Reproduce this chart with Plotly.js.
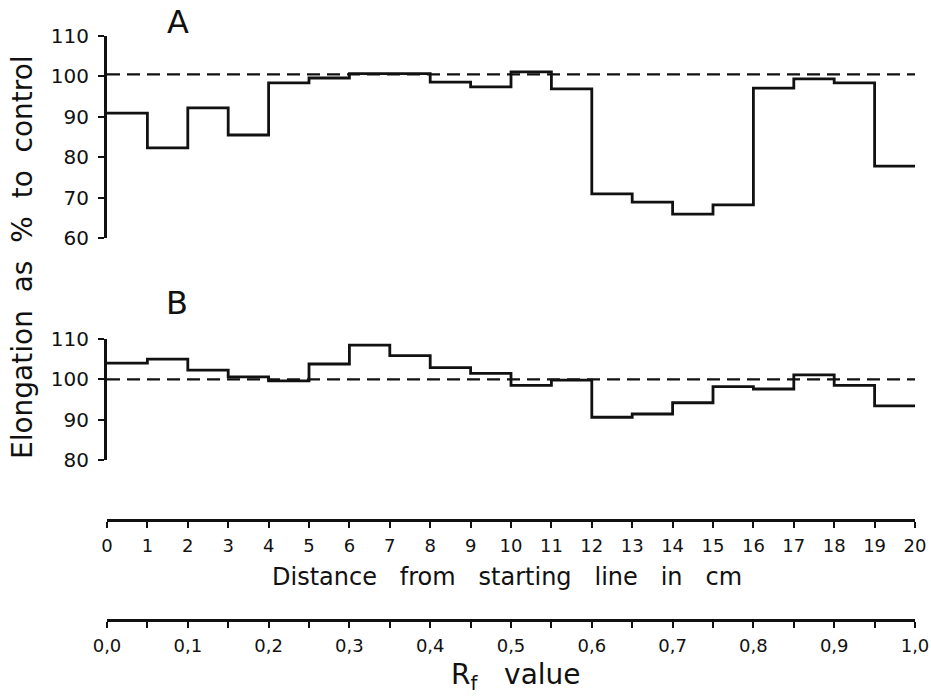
<!DOCTYPE html>
<html>
<head>
<meta charset="utf-8">
<script src="https://cdn.plot.ly/plotly-3.0.1.min.js"></script>
<style>
html,body{margin:0;padding:0;background:#fff;}
#chart{width:931px;height:697px;}
</style>
</head>
<body>
<div id="chart"></div>
<script>
// ---- data ----
const distanceEdges = [0,1,2,3,4,5,6,7,8,9,10,11,12,13,14,15,16,17,18,19,20];
const elongationA = [90.9,82.3,92.2,85.5,98.4,99.6,100.7,100.7,98.6,97.4,101.1,96.9,70.9,68.9,65.9,68.2,97.1,99.4,98.4,77.8];
const elongationB = [104.0,105.0,102.3,100.6,99.6,103.8,108.5,105.9,102.9,101.5,98.5,99.8,90.6,91.4,94.2,98.2,97.6,101.1,98.5,93.4];
const controlA = 100.5;
const controlB = 100;
const yTicksA = [60,70,80,90,100,110];
const yTicksB = [80,90,100,110];
const distanceTicks = [0,1,2,3,4,5,6,7,8,9,10,11,12,13,14,15,16,17,18,19,20];
const rfTickVals = [0,0.1,0.2,0.3,0.4,0.5,0.6,0.7,0.8,0.9,1.0];
const rfTickText = ['0,0','0,1','0,2','0,3','0,4','0,5','0,6','0,7','0,8','0,9','1,0'];
const rfMinorTicks = [0.05,0.15,0.25,0.35,0.45,0.55,0.65,0.75,0.85,0.95];

// ---- geometry ----
const W = 931, H = 697;
const M = {l:107, r:16, t:36, b:77};
const plotH = H - M.t - M.b;
const plotW = W - M.l - M.r;
const py = p => (H - M.b - p) / plotH; // pixel y -> paper fraction
const px = p => (p - M.l) / plotW;      // pixel x -> paper fraction

const FONT = 'DejaVu Sans, sans-serif';
const ink = '#111';

function stepY(vals){ return vals.concat([vals[vals.length-1]]); }

const traces = [
  {x: distanceEdges, y: stepY(elongationA), xaxis:'x', yaxis:'y', mode:'lines',
   line:{shape:'hv', color:ink, width:2.8}, hoverinfo:'skip', showlegend:false},
  {x: [distanceEdges[0], distanceEdges[distanceEdges.length-1]], y:[controlA, controlA], xaxis:'x', yaxis:'y', mode:'lines',
   line:{color:ink, width:2.2, dash:'13px,7px'}, hoverinfo:'skip', showlegend:false},
  {x: distanceEdges, y: stepY(elongationB), xaxis:'x', yaxis:'y2', mode:'lines',
   line:{shape:'hv', color:ink, width:2.8}, hoverinfo:'skip', showlegend:false},
  {x: [distanceEdges[0], distanceEdges[distanceEdges.length-1]], y:[controlB, controlB], xaxis:'x', yaxis:'y2', mode:'lines',
   line:{color:ink, width:2.2, dash:'13px,7px'}, hoverinfo:'skip', showlegend:false},
  {x: [distanceTicks[0], distanceTicks[distanceTicks.length-1]], y:[null,null], xaxis:'x2', yaxis:'y', mode:'lines', hoverinfo:'skip', showlegend:false},
  {x: [rfTickVals[0], rfTickVals[rfTickVals.length-1]], y:[null,null], xaxis:'x3', yaxis:'y', mode:'lines', hoverinfo:'skip', showlegend:false}
];

const yCommon = {
  showgrid:false, zeroline:false, showline:true, linecolor:ink, linewidth:3,
  ticks:'outside', ticklen:6, tickwidth:2, tickcolor:ink,
  tickfont:{family:FONT, size:20, color:ink}, ticklabelstandoff:5, fixedrange:true
};
const xCommon = {
  showgrid:false, zeroline:false, showline:true, linecolor:ink, linewidth:3,
  ticks:'outside', ticklen:6, tickwidth:2, tickcolor:ink,
  tickfont:{family:FONT, size:18, color:ink}, fixedrange:true
};

const layout = {
  width:W, height:H, margin:M,
  paper_bgcolor:'#fff', plot_bgcolor:'rgba(0,0,0,0)',
  showlegend:false,
  xaxis:{range:[0,20], domain:[0,1], visible:false, anchor:'y', fixedrange:true},
  yaxis:Object.assign({}, yCommon, {domain:[py(238), py(36)], range:[60,110], tickmode:'array', tickvals:yTicksA, ticktext:yTicksA.map(String), anchor:'x'}),
  yaxis2:Object.assign({}, yCommon, {domain:[py(460), py(339)], range:[80,110], tickmode:'array', tickvals:yTicksB, ticktext:yTicksB.map(String), anchor:'x'}),
  xaxis2:Object.assign({}, xCommon, {overlaying:'x', anchor:'free', position:py(520), side:'bottom',
    range:[0,20], tickmode:'array', tickvals:distanceTicks, ticktext:distanceTicks.map(String), ticklabelstandoff:2}),
  xaxis3:Object.assign({}, xCommon, {overlaying:'x', anchor:'free', position:0, side:'bottom',
    range:[0,1], tickmode:'array', tickvals:rfTickVals, ticktext:rfTickText, ticklabelstandoff:2,
    minor:{tickmode:'array', tickvals:rfMinorTicks, ticks:'outside', ticklen:6, tickwidth:2, tickcolor:ink, showgrid:false}}),
  annotations:[
    {text:'A', xref:'paper', yref:'paper', x:px(178), y:py(22), showarrow:false,
     xanchor:'center', yanchor:'middle', font:{family:FONT, size:32, color:ink}},
    {text:'B', xref:'paper', yref:'paper', x:px(177), y:py(303), showarrow:false,
     xanchor:'center', yanchor:'middle', font:{family:FONT, size:32, color:ink}},
    {text:'Elongation&nbsp; as&nbsp; %&nbsp; to&nbsp; control', xref:'paper', yref:'paper',
     x:px(22), y:py(257), textangle:-90, showarrow:false,
     xanchor:'center', yanchor:'middle', font:{family:FONT, size:28, color:ink}},
    {text:'Distance&nbsp;&nbsp; from&nbsp;&nbsp; starting&nbsp;&nbsp; line&nbsp;&nbsp; in&nbsp;&nbsp; cm', xref:'paper', yref:'paper',
     x:px(507), y:py(577), showarrow:false,
     xanchor:'center', yanchor:'middle', font:{family:FONT, size:24, color:ink}},
    {text:'R<sub>f</sub>&nbsp;&nbsp; value', xref:'paper', yref:'paper',
     x:px(516), y:py(677), showarrow:false,
     xanchor:'center', yanchor:'middle', font:{family:FONT, size:28, color:ink}}
  ]
};

Plotly.newPlot('chart', traces, layout, {staticPlot:true, displayModeBar:false});
</script>
</body>
</html>
